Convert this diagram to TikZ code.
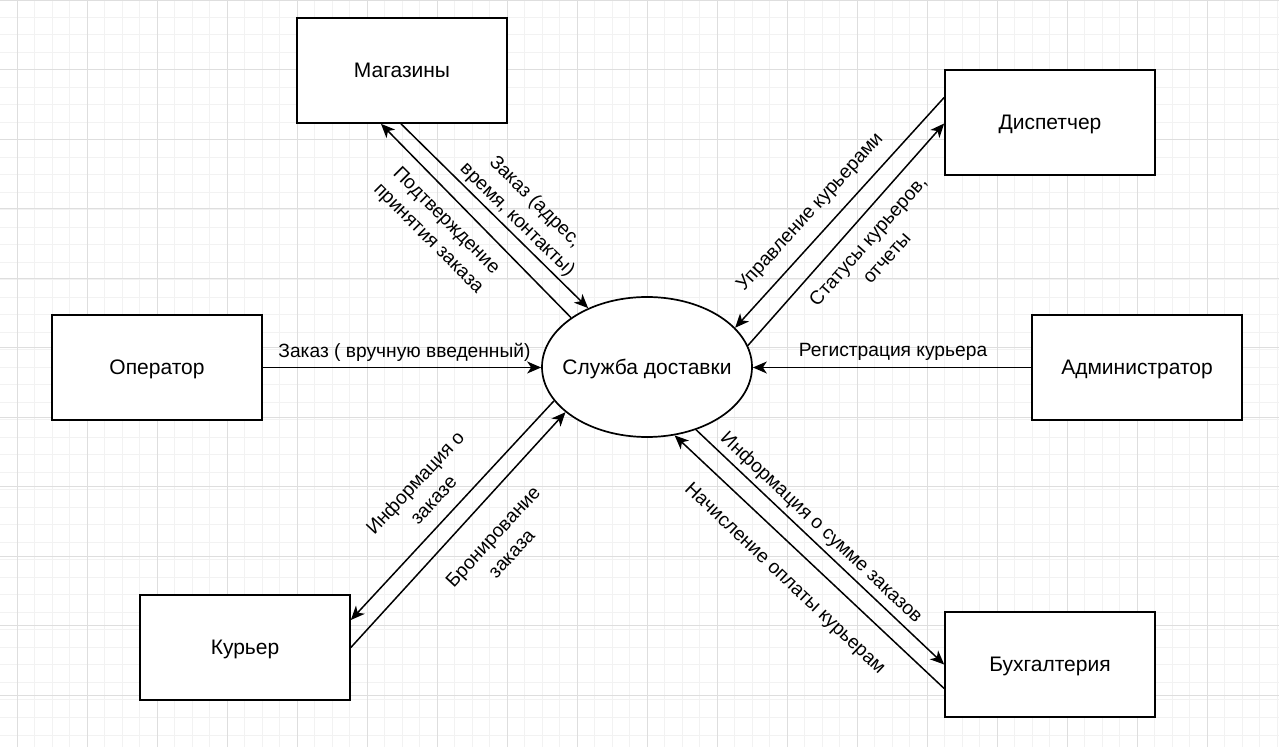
\documentclass[tikz,border=0pt]{standalone}
\usepackage{fontspec}
\setmainfont{Liberation Sans}
\usetikzlibrary{shapes.geometric,arrows.meta,calc}
\definecolor{gridminor}{HTML}{F2F2F2}
\definecolor{gridmajor}{HTML}{DEDEDE}
\tikzset{
  box/.style={draw=black, line width=0.85pt, fill=white, rectangle, minimum width=105pt, minimum height=52.5pt, inner sep=0pt, font=\fontsize{10.5}{12}\selectfont, text height=0.905em, text depth=0.212em},
  proc/.style={draw=black, line width=0.85pt, fill=white, ellipse, minimum width=105pt, minimum height=70pt, inner sep=0pt, font=\fontsize{10.5}{12}\selectfont},
  arr/.style={draw=black, line width=0.75pt, -{Stealth[length=7pt, width=6pt, inset=2pt]}},
  lbl/.style={inner sep=0pt, align=center, font=\fontsize{9.6}{12.6}\selectfont},
  gminor/.style={draw=gridminor, line width=0.5pt},
  gmajor/.style={draw=gridmajor, line width=0.5pt}
}
\begin{document}
\begin{tikzpicture}[x=0.5pt, y=-0.5pt]
\useasboundingbox (0,0) rectangle (1279,747);
\fill[white] (0,0) rectangle (1279,747);
% grid
\foreach \i in {0,...,73} {
  \pgfmathsetmacro\gx{-0.5+17.5*\i}
  \draw[gminor] (\gx,0) -- (\gx,747);
}
\foreach \i in {0,...,43} {
  \pgfmathsetmacro\gy{17.5*\i}
  \draw[gminor] (0,\gy) -- (1279,\gy);
}
\foreach \gx in {17,87,...,1257} { \draw[gmajor] (\gx,0) -- (\gx,747); }
\foreach \gy in {0.5,70,...,700} { \draw[gmajor] (0,\gy) -- (1279,\gy); }

% nodes
\node[proc] (sd) at (647,367) {\makebox[0pt]{\rule[-0.212em]{0pt}{1.117em}Служба доставки}};
\node[box] (mag) at (402,70.5) {Магазины};
\node[box] (disp) at (1050,122.5) {Диспетчер};
\node[box] (op) at (157,367.5) {Оператор};
\node[box] (adm) at (1137,367.5) {Администратор};
\node[box] (kur) at (245,647.5) {Курьер};
\node[box] (buh) at (1050,664.5) {Бухгалтерия};

% connectors
\draw[arr] ($(mag.south)+(-1,0)$) -- (sd.135);
\draw[arr] (sd.147) -- ($(mag.south)+(-21,0)$);
\draw[arr] ($(disp.west)+(0,-25)$) -- (sd.24.6);
\draw[arr] (sd.12.6) -- ($(disp.west)+(0,1)$);
\draw[arr] (op.east) -- (op.east -| sd.west);
\draw[arr] (adm.west) -- (adm.west -| sd.east);
\draw[arr] (sd.200.7) -- ($(kur.east)+(0,-27.5)$);
\draw[arr] (kur.east) -- (sd.209.8);
\draw[arr] (sd.308) -- (buh.west);
\draw[arr] ($(buh.west)+(0,24)$) -- (sd.292.8);

% labels
\node[lbl] (l1) at (404.5,352) {Заказ ( вручную введенный)};
\node[lbl] (l2) at (893,352) {Регистрация курьера};
\node[lbl, rotate=-44.6] (l3) at (526,211) {Заказ (адрес,\\время, контакты)};
\node[lbl, rotate=-45] (l4) at (437,230) {Подтверждение\\принятия заказа};
\node[lbl, rotate=47.6] (l5) at (810.5,212.5) {Управление курьерами};
\node[lbl, rotate=48.4] (l6) at (877,249) {Статусы курьеров,\\отчеты};
\node[lbl, rotate=47] (l7) at (424,491) {Информация о\\заказе};
\node[lbl, rotate=47.4] (l8) at (502,545) {Бронирование\\заказа};
\node[lbl, rotate=-43.2] (l9) at (821,528) {Информация о сумме заказов};
\node[lbl, rotate=-43.4] (l10) at (784.5,579) {Начисление оплаты курьерам};
\end{tikzpicture}
\end{document}
